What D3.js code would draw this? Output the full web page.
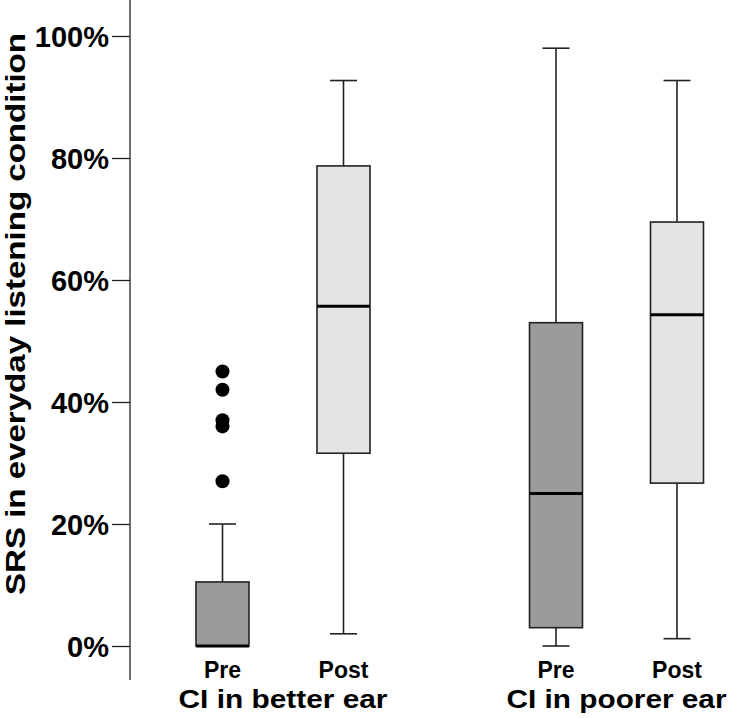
<!DOCTYPE html>
<html>
<head>
<meta charset="utf-8">
<script src="https://cdn.jsdelivr.net/npm/d3@7"></script>
<style>
  html, body { margin: 0; padding: 0; background: #fff; }
  svg { display: block; }
  text { font-family: "Liberation Sans", Arial, sans-serif; font-weight: bold; fill: #000; }
</style>
</head>
<body>
<svg id="chart" width="731" height="718"></svg>
<script>
// ---- Data ----
const groups = ["CI in better ear", "CI in poorer ear"];
const conditions = ["Pre", "Post"];
// box stats per group/condition: [whiskerLow, q1, median, q3, whiskerHigh]
const betterPre  = [0, 0, 0, 10.5, 20];
const betterPost = [2, 31.6, 55.7, 78.7, 92.7];
const poorerPre  = [0, 3, 25, 53, 98];
const poorerPost = [1.2, 26.7, 54.3, 69.5, 92.7];
const betterPreOutliers = [45, 42, 37, 36, 27];
const yTicks = [0, 20, 40, 60, 80, 100];
const yTitle = "SRS in everyday listening condition";

const boxes = [
  { group: groups[0], cond: "Pre",  stats: betterPre,  outliers: betterPreOutliers },
  { group: groups[0], cond: "Post", stats: betterPost, outliers: [] },
  { group: groups[1], cond: "Pre",  stats: poorerPre,  outliers: [] },
  { group: groups[1], cond: "Post", stats: poorerPost, outliers: [] }
];

// ---- Layout ----
const svg = d3.select("#chart");
const axisX = 130;
const y = d3.scaleLinear().domain([0, 100]).range([646, 36]);
const xGroup = d3.scalePoint().domain(groups).range([283, 616.5]);
const xCond = d3.scalePoint().domain(conditions).range([-60.5, 60.5]);
const cx = d => xGroup(d.group) + xCond(d.cond);
const boxW = 53, capW = 27;
const fill = { Pre: "#9b9b9b", Post: "#e4e4e4" };

// ---- Y axis ----
svg.append("line")
  .attr("x1", axisX).attr("x2", axisX).attr("y1", 0).attr("y2", 680)
  .attr("stroke", "#222").attr("stroke-width", 1.3);

const yAxis = d3.axisLeft(y).tickValues(yTicks).tickFormat(d => d + "%")
  .tickSize(18).tickPadding(3);
const ga = svg.append("g").attr("transform", `translate(${axisX},0)`).call(yAxis);
ga.select(".domain").remove();
ga.selectAll(".tick line").attr("stroke", "#222").attr("stroke-width", 1.3);
ga.selectAll(".tick text")
  .attr("font-size", 29).attr("font-weight", "bold")
  .attr("font-family", "'Liberation Sans', Arial, sans-serif")
  .attr("fill", "#000").attr("dy", "0.36em");

svg.append("text")
  .attr("transform", "translate(25,314) rotate(-90)")
  .attr("text-anchor", "middle")
  .attr("font-size", 27)
  .attr("textLength", 562).attr("lengthAdjust", "spacingAndGlyphs")
  .text(yTitle);

// ---- Boxes ----
const g = svg.append("g").selectAll("g").data(boxes).join("g");

// whiskers
g.append("line")
  .attr("x1", cx).attr("x2", cx)
  .attr("y1", d => y(d.stats[4])).attr("y2", d => y(d.stats[3]))
  .attr("stroke", "#222").attr("stroke-width", 1.6);
g.append("line")
  .attr("x1", cx).attr("x2", cx)
  .attr("y1", d => y(d.stats[1])).attr("y2", d => y(d.stats[0]))
  .attr("stroke", "#222").attr("stroke-width", 1.6);
// caps
g.filter(d => d.stats[4] > d.stats[3]).append("line")
  .attr("x1", d => cx(d) - capW / 2).attr("x2", d => cx(d) + capW / 2)
  .attr("y1", d => y(d.stats[4])).attr("y2", d => y(d.stats[4]))
  .attr("stroke", "#222").attr("stroke-width", 1.6);
g.filter(d => d.stats[0] < d.stats[1]).append("line")
  .attr("x1", d => cx(d) - capW / 2).attr("x2", d => cx(d) + capW / 2)
  .attr("y1", d => y(d.stats[0])).attr("y2", d => y(d.stats[0]))
  .attr("stroke", "#222").attr("stroke-width", 1.6);
// box
g.append("rect")
  .attr("x", d => cx(d) - boxW / 2).attr("width", boxW)
  .attr("y", d => y(d.stats[3])).attr("height", d => y(d.stats[1]) - y(d.stats[3]))
  .attr("fill", d => fill[d.cond]).attr("stroke", "#222").attr("stroke-width", 1.6);
// median
g.append("line")
  .attr("x1", d => cx(d) - boxW / 2).attr("x2", d => cx(d) + boxW / 2)
  .attr("y1", d => y(d.stats[2])).attr("y2", d => y(d.stats[2]))
  .attr("stroke", "#000").attr("stroke-width", 3);
// outliers
g.selectAll("circle").data(d => d.outliers.map(v => ({ v, x: cx(d) }))).join("circle")
  .attr("cx", d => d.x).attr("cy", d => y(d.v)).attr("r", 7).attr("fill", "#000");

// ---- X labels ----
svg.append("g").selectAll("text").data(boxes).join("text")
  .attr("x", cx).attr("y", 678)
  .attr("text-anchor", "middle").attr("font-size", 23)
  .text(d => d.cond);

const groupLen = { "CI in better ear": 209, "CI in poorer ear": 220 };
svg.append("g").selectAll("text").data(groups).join("text")
  .attr("x", d => xGroup(d)).attr("y", 708)
  .attr("text-anchor", "middle").attr("font-size", 26)
  .attr("textLength", d => groupLen[d]).attr("lengthAdjust", "spacingAndGlyphs")
  .text(d => d);
</script>
</body>
</html>
